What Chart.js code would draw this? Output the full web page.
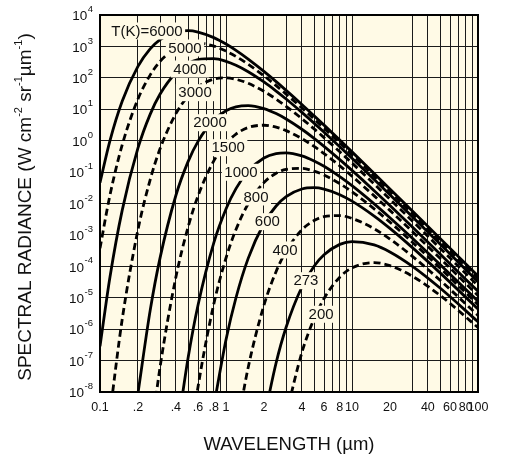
<!DOCTYPE html>
<html>
<head>
<meta charset="utf-8">
<script src="https://cdn.jsdelivr.net/npm/chart.js@4/dist/chart.umd.min.js"></script>
<style>
html,body{margin:0;padding:0;background:#ffffff;}
#wrap{width:505px;height:466px;}
</style>
</head>
<body>
<div id="wrap"><canvas id="c" width="505" height="466"></canvas></div>
<script>
// ---- data ----
const wavelengths = [0.1,0.12,0.15,0.2,0.25,0.3,0.4,0.5,0.6,0.8,1,1.2,1.5,2,2.5,3,4,5,6,8,10,15,20,30,50,100];
const temperatures = [6000,5000,4000,3000,2000,1500,1000,800,600,400,273,200];

const radiance6000 = [4.6e-2,1.0,17.9,231,832,1656,2904,3177,2864,1908,1191,751,397,161,75.8,40.0,14.2,6.19,3.12,1.04,0.44,0.0904,0.0292,5.89e-3,7.76e-4,4.91e-5];
const radiance5000 = [3.79e-4,1.85e-2,0.73,21.0,122,335,874,1210,1276,1024,710,479,270,116,56.4,30.4,11.0,4.90,2.49,0.839,0.357,0.0742,0.0241,4.87e-3,6.43e-4,4.08e-5];
const radiance4000 = [2.84e-7,4.59e-5,6.05e-3,0.575,6.88,30.4,145,286,382,410,336,251,157,73.9,37.9,21.2,7.97,3.62,1.86,0.640,0.275,0.0579,0.0189,3.85e-3,5.11e-4,3.25e-5];
const radiance3000 = [null,2.10e-9,2.04e-6,1.44e-3,0.0568,0.559,7.22,26.0,51.7,90.8,99.2,89.6,66.9,37.2,21.0,12.4,5.02,2.37,1.25,0.443,0.194,0.0416,0.0137,2.83e-3,3.78e-4,2.42e-5];
const radiance2000 = [null,null,null,8.89e-9,3.89e-6,1.89e-4,1.80e-2,0.215,0.950,4.52,8.95,11.95,13.1,10.5,7.27,4.90,2.31,1.19,0.661,0.249,0.113,0.0255,8.60e-3,1.81e-3,2.46e-4,1.60e-5];
const radiance1500 = [null,null,null,null,2.64e-10,6.37e-8,4.48e-5,1.77e-3,1.75e-2,0.226,0.813,1.62,2.62,3.10,2.69,2.09,1.16,0.656,0.388,0.157,0.0740,0.0175,6.05e-3,1.30e-3,1.80e-4,1.18e-5];
const radiance1000 = [null,null,null,null,null,null,2.77e-10,1.21e-7,5.90e-6,5.62e-4,6.71e-3,2.97e-2,0.107,0.280,0.388,0.409,0.328,0.227,0.153,0.0721,0.0370,9.74e-3,3.53e-3,7.97e-4,1.14e-4,7.70e-6];
const radiance800  = [null,null,null,null,null,null,null,9.12e-11,1.47e-8,6.27e-6,1.84e-4,1.48e-3,9.74e-3,4.63e-2,9.17e-2,0.122,0.131,0.107,0.0804,0.0429,0.0236,6.77e-3,2.55e-3,5.97e-4,8.80e-5,6.05e-6];
const radiance600  = [null,null,null,null,null,null,null,null,null,3.49e-9,4.59e-7,1.00e-5,1.79e-4,2.31e-3,8.33e-3,1.66e-2,2.90e-2,3.18e-2,2.87e-2,1.91e-2,1.19e-2,3.97e-3,1.61e-3,4.00e-4,6.19e-5,4.40e-6];
const radiance400  = [null,null,null,null,null,null,null,null,null,null,null,4.59e-10,6.05e-8,5.75e-6,6.88e-5,3.04e-4,1.45e-3,2.86e-3,3.82e-3,4.10e-3,3.36e-3,1.57e-3,7.39e-4,2.12e-4,3.62e-5,2.75e-6];
const radiance273  = [null,null,null,null,null,null,null,null,null,null,null,null,null,1.34e-9,8.53e-8,1.15e-6,2.20e-5,1.01e-4,2.34e-4,5.01e-4,6.16e-4,4.82e-4,2.88e-4,1.02e-4,2.04e-5,1.72e-6];
const radiance200  = [null,null,null,null,null,null,null,null,null,null,null,null,null,null,null,1.89e-9,1.80e-7,2.15e-6,9.50e-6,4.52e-5,8.95e-5,1.31e-4,1.05e-4,4.90e-5,1.19e-5,1.13e-6];

const curveLabels = ['T(K)=6000','5000','4000','3000','2000','1500','1000','800','600','400','273','200'];
const labelWavelengths = [0.236,0.473,0.518,0.568,0.747,1.04,1.316,1.73,2.13,2.94,4.31,5.68];
const labelRadiance = [3100,891,191,33.7,3.73,0.598,0.0986,0.0161,2.64e-3,3.32e-4,3.49e-5,2.98e-6];

const xTickValues = [0.1,0.2,0.4,0.6,0.8,1,2,4,6,8,10,20,40,60,80,100];
const xTickLabels = ['0.1','.2','.4','.6','.8','1','2','4','6','8','10','20','40','60','80','100'];
const xGridValues = [0.1,0.2,0.3,0.4,0.5,0.6,0.7,0.8,0.9,1,2,3,4,5,6,7,8,9,10,20,30,40,50,60,70,80,90,100];
const xGridHidden = [20];
const yTickValues = [1e4,1e3,1e2,1e1,1e0,1e-1,1e-2,1e-3,1e-4,1e-5,1e-6,1e-7,1e-8];
const yTickExponents = ['4','3','2','1','0','-1','-2','-3','-4','-5','-6','-7','-8'];

const xTitle = 'WAVELENGTH (µm)';
const yTitleParts = [['SPECTRAL RADIANCE (W cm',0],['-2',1],[' sr',0],['-1',1],['µm',0],['-1',1],[')',0]];

// ---- chart ----
const seriesValues = [radiance6000,radiance5000,radiance4000,radiance3000,radiance2000,radiance1500,
                      radiance1000,radiance800,radiance600,radiance400,radiance273,radiance200];
const FONT = '"Liberation Sans", Arial, Helvetica, sans-serif';
const CREAM = '#fffae6';
const INK = '#111111';

const datasets = seriesValues.map((vals, i) => ({
  label: String(temperatures[i]),
  data: wavelengths.map((w, k) => ({x: w, y: vals[k]})).filter(p => p.y !== null),
  borderColor: '#000000',
  borderWidth: 2.8,
  borderDash: i % 2 === 1 ? [7, 4] : [],
  pointRadius: 0,
  fill: false,
  cubicInterpolationMode: 'monotone'
}));

const decor = {
  id: 'decor',
  beforeDraw(chart) {
    const {ctx, chartArea: a} = chart;
    ctx.save();
    ctx.fillStyle = CREAM;
    ctx.fillRect(a.left, a.top, a.right - a.left, a.bottom - a.top);
    ctx.restore();
  },
  afterDatasetsDraw(chart) {
    const {ctx, chartArea: a} = chart;
    const xs = chart.scales.x, ys = chart.scales.y;
    ctx.save();
    ctx.font = '15px ' + FONT;
    ctx.textAlign = 'center';
    ctx.textBaseline = 'middle';
    curveLabels.forEach((t, i) => {
      const px = xs.getPixelForValue(labelWavelengths[i]);
      const py = ys.getPixelForValue(labelRadiance[i]);
      const w = ctx.measureText(t).width;
      ctx.fillStyle = CREAM;
      ctx.fillRect(px - w / 2 - 2.5, py - 8.5, w + 5, 17);
      ctx.fillStyle = INK;
      ctx.fillText(t, px, py + 0.5);
    });
    ctx.strokeStyle = '#000';
    ctx.lineWidth = 2;
    ctx.strokeRect(a.left, a.top, a.right - a.left, a.bottom - a.top);
    ctx.restore();
  },
  afterDraw(chart) {
    const {ctx, chartArea: a} = chart;
    const ys = chart.scales.y;
    ctx.save();
    ctx.fillStyle = INK;
    // y tick labels with superscript exponents
    ctx.textBaseline = 'middle';
    ctx.textAlign = 'left';
    const right = a.left - 7;
    const baseFont = '13.5px ' + FONT, expFont = '9.5px ' + FONT;
    yTickValues.forEach((v, i) => {
      const py = ys.getPixelForValue(v);
      ctx.font = expFont;
      const we = ctx.measureText(yTickExponents[i]).width;
      ctx.font = baseFont;
      const wb = ctx.measureText('10').width;
      ctx.fillText('10', right - we - wb - 0.5, py + 1.5);
      ctx.font = expFont;
      ctx.fillText(yTickExponents[i], right - we, py - 5.5);
    });
    // x title
    ctx.font = '18.5px ' + FONT;
    ctx.textAlign = 'center';
    ctx.fillText(xTitle, (a.left + a.right) / 2, 445);
    // y title (rotated, with superscripts)
    ctx.translate(25.5, 207);
    ctx.rotate(-Math.PI / 2);
    const big = '19px ' + FONT, small = '11px ' + FONT;
    let total = 0;
    yTitleParts.forEach(([t, s]) => { ctx.font = s ? small : big; total += ctx.measureText(t).width; });
    let x = -total / 2;
    ctx.textAlign = 'left';
    yTitleParts.forEach(([t, s]) => {
      ctx.font = s ? small : big;
      ctx.fillText(t, x, s ? -7 : 0);
      x += ctx.measureText(t).width;
    });
    ctx.restore();
  }
};

new Chart(document.getElementById('c'), {
  type: 'line',
  data: {datasets},
  options: {
    responsive: false,
    animation: false,
    events: [],
    layout: {padding: {left: 0, right: 27, top: 15, bottom: 0}},
    elements: {line: {capBezierPoints: false}},
    plugins: {legend: {display: false}, tooltip: {enabled: false}, title: {display: false}},
    scales: {
      x: {
        type: 'logarithmic',
        min: 0.1, max: 100,
        afterBuildTicks: s => { s.ticks = xGridValues.map(v => ({value: v})); },
        afterFit: s => { s.height = 74; },
        border: {display: false},
        grid: {
          drawTicks: false,
          lineWidth: 1,
          color: c => (c.tick && xGridHidden.some(h => Math.abs(h - c.tick.value) < 1e-9)) ? 'rgba(0,0,0,0)' : '#1a1a1a'
        },
        ticks: {
          autoSkip: false, maxRotation: 0, minRotation: 0, padding: 8,
          color: INK, font: {family: FONT, size: 12.5},
          callback: (v) => {
            const k = xTickValues.findIndex(t => Math.abs(t - v) / t < 1e-6);
            return k >= 0 ? xTickLabels[k] : '';
          }
        }
      },
      y: {
        type: 'logarithmic',
        min: 1e-8, max: 1e4,
        afterBuildTicks: s => { s.ticks = yTickValues.slice().reverse().map(v => ({value: v})); },
        afterFit: s => { s.width = 100; },
        border: {display: false},
        grid: {drawTicks: false, lineWidth: 1, color: '#1a1a1a'},
        ticks: {display: false}
      }
    }
  },
  plugins: [decor]
});
</script>
</body>
</html>
